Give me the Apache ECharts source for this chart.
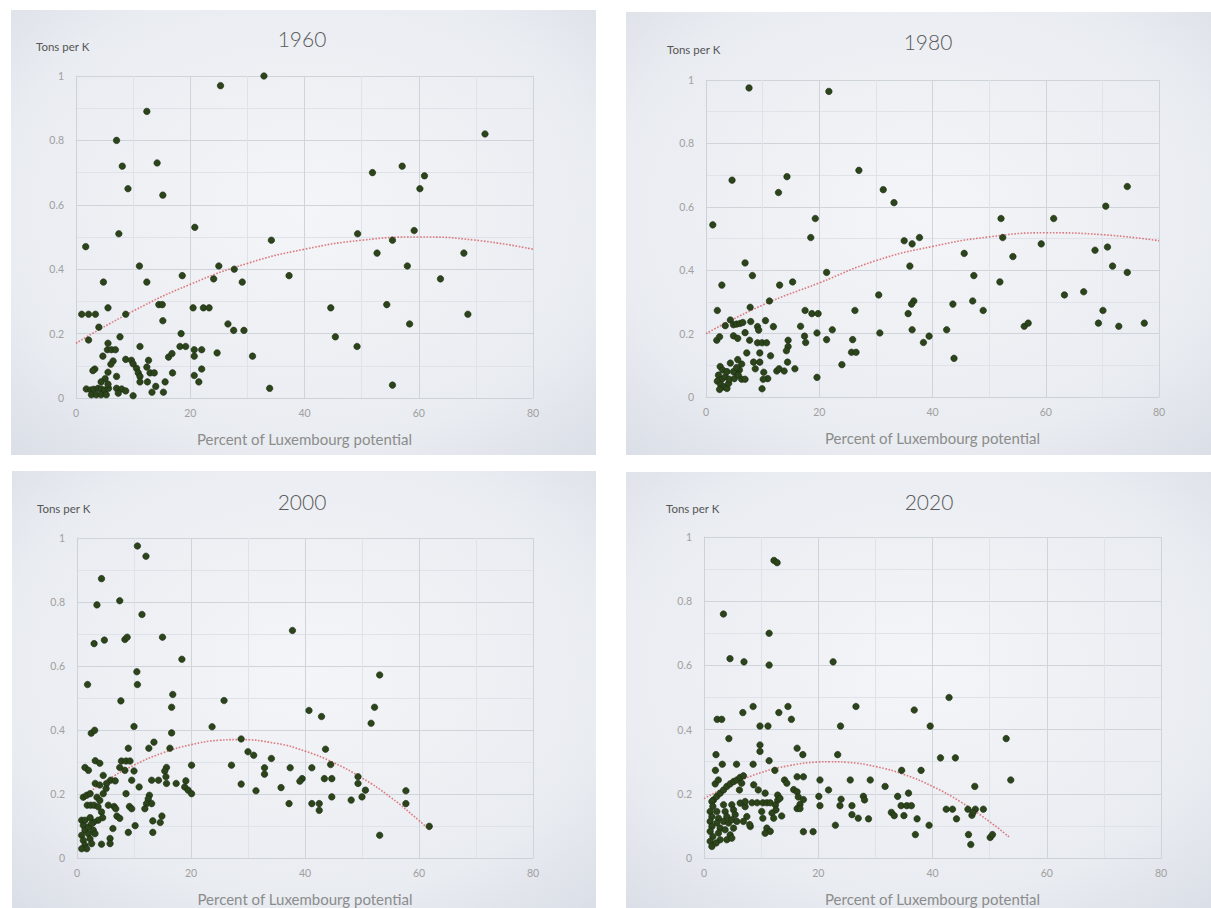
<!DOCTYPE html>
<html><head><meta charset="utf-8">
<script src="https://cdn.jsdelivr.net/npm/echarts@6/dist/echarts.min.js"></script>
<style>html,body{margin:0;padding:0;background:#fff}#c{width:1211px;height:908px}</style>
</head><body><div id="c"></div><script>
// ---------- DATA ----------
const years = ['1960', '1980', '2000', '2020'];
const xTickLabels = ['0', '20', '40', '60', '80'];
const yTickLabels = ['0', '0.2', '0.4', '0.6', '0.8', '1'];
const yAxisTitle = 'Tons per K';
const xAxisTitle = 'Percent of Luxembourg potential';

const pts1960 = [
 [32.9,1.0],[25.3,0.97],[12.4,0.89],[7.1,0.80],[71.6,0.82],[8.1,0.72],[14.2,0.73],[9.1,0.65],[15.2,0.63],[51.9,0.70],
 [57.1,0.72],[61.0,0.69],[60.2,0.65],[7.5,0.51],[20.8,0.53],[1.7,0.47],[34.2,0.49],[49.3,0.51],[59.2,0.52],[55.4,0.49],
 [52.7,0.45],[67.9,0.45],[58.0,0.41],[63.8,0.37],[11.1,0.41],[25.0,0.41],[27.7,0.40],[37.3,0.38],[18.6,0.38],[24.1,0.37],
 [29.1,0.36],[4.8,0.36],[12.4,0.36],[44.6,0.28],[54.4,0.29],[68.6,0.26],[1.0,0.26],[2.2,0.26],[3.4,0.26],[5.6,0.28],
 [8.7,0.26],[14.5,0.29],[15.1,0.29],[20.5,0.28],[22.3,0.28],[23.3,0.28],[15.2,0.24],[26.6,0.23],[27.6,0.21],[29.4,0.21],
 [58.4,0.23],[4.0,0.22],[2.2,0.18],[7.7,0.19],[18.4,0.20],[45.4,0.19],[49.2,0.16],[55.4,0.04],[33.9,0.03],[30.9,0.13],
 [24.7,0.14],[18.2,0.16],[19.2,0.16],[20.7,0.15],[22.0,0.15],[20.7,0.13],[22.0,0.09],[20.7,0.07],[21.5,0.05],
 [5.6,0.17],[5.5,0.15],[6.2,0.15],[6.9,0.15],[11.2,0.16],[4.7,0.13],[6.5,0.115],[6.1,0.105],[3.3,0.09],[2.96,0.085],
 [5.6,0.08],[5.1,0.06],[4.4,0.05],[8.7,0.12],[9.7,0.117],[10.0,0.106],[10.6,0.092],[10.9,0.078],[11.2,0.067],[12.7,0.117],
 [12.4,0.096],[12.96,0.078],[13.7,0.078],[11.2,0.05],[12.5,0.05],[13.96,0.036],[15.6,0.05],[13.3,0.018],[15.3,0.018],[10.0,0.007],
 [16.9,0.078],[16.2,0.127],[16.8,0.138],[1.8,0.028],[2.6,0.025],[3.1,0.027],[3.85,0.03],[4.4,0.028],[5.0,0.025],[5.7,0.03],
 [2.7,0.01],[3.55,0.01],[4.4,0.01],[5.3,0.01],[7.1,0.03],[8.0,0.028],[8.7,0.022],[7.4,0.015],[5.6,0.043],[7.1,0.067]
];
const pts1980 = [
 [7.6,0.975],[21.7,0.964],[27.0,0.715],[4.6,0.684],[14.3,0.695],[12.8,0.645],[31.3,0.654],[33.2,0.613],[74.4,0.664],[70.6,0.602],
 [1.2,0.543],[19.3,0.563],[18.5,0.503],[52.1,0.563],[61.4,0.563],[35.0,0.493],[36.4,0.483],[37.7,0.503],[52.4,0.503],[59.2,0.483],
 [68.7,0.463],[70.9,0.473],[45.6,0.453],[54.2,0.443],[6.9,0.423],[8.2,0.383],[36.0,0.413],[71.8,0.413],[74.4,0.393],[21.3,0.393],
 [47.3,0.383],[2.8,0.353],[13.0,0.353],[15.3,0.363],[51.9,0.363],[30.5,0.322],[63.3,0.322],[66.7,0.332],[2.0,0.273],[7.8,0.283],
 [11.2,0.303],[36.7,0.303],[36.3,0.293],[47.1,0.303],[43.6,0.293],[48.95,0.273],[26.3,0.273],[17.5,0.273],[18.7,0.263],[19.8,0.263],
 [35.7,0.263],[70.1,0.273],[16.7,0.223],[56.2,0.223],[56.9,0.233],[69.3,0.233],[72.9,0.223],[77.4,0.233],[36.4,0.212],[42.5,0.212],
 [22.3,0.212],[19.6,0.202],[30.7,0.202],[39.4,0.192],[38.4,0.172],[21.3,0.181],[25.9,0.181],[25.7,0.141],[26.5,0.141],[43.8,0.122],
 [24.0,0.102],[19.6,0.062],[17.4,0.192],[17.6,0.172],
 [3.4,0.225],[4.3,0.243],[4.85,0.228],[5.4,0.23],[6.0,0.232],[6.5,0.235],[7.9,0.238],[1.9,0.179],[2.4,0.19],[4.85,0.193],
 [5.6,0.185],[6.9,0.203],[7.7,0.179],[9.1,0.222],[9.3,0.211],[10.5,0.241],[11.9,0.222],[9.1,0.171],[9.9,0.171],[10.7,0.171],
 [7.2,0.139],[9.5,0.139],[11.4,0.13],[14.5,0.179],[14.5,0.159],[14.2,0.146],[5.6,0.118],[6.3,0.104],[5.9,0.085],[5.3,0.079],
 [8.4,0.11],[9.5,0.11],[8.7,0.089],[10.2,0.078],[10.9,0.058],[10.1,0.056],[9.9,0.026],[12.5,0.082],[12.9,0.089],[13.8,0.082],
 [14.4,0.11],[15.7,0.089],[2.5,0.096],[2.95,0.085],[2.2,0.069],[2.8,0.056],[3.4,0.064],[2.0,0.05],[2.6,0.039],[3.2,0.032],
 [3.7,0.027],[4.0,0.043],[2.4,0.024],[4.1,0.056],[3.7,0.08],[4.3,0.107],[4.85,0.08],[5.0,0.058],[6.3,0.056],[6.9,0.056],
 [5.7,0.069],[5.4,0.093]
];
const pts2000 = [
 [10.6,0.975],[12.1,0.943],[4.3,0.873],[7.5,0.804],[3.5,0.791],[11.4,0.761],[37.8,0.711],[3.0,0.670],[4.8,0.681],[8.4,0.683],
 [8.8,0.690],[15.0,0.690],[18.4,0.621],[10.5,0.582],[53.1,0.572],[1.85,0.542],[10.6,0.542],[16.8,0.511],[7.7,0.491],[25.8,0.492],
 [16.6,0.471],[52.2,0.471],[40.7,0.461],[42.9,0.442],[51.6,0.421],[10.0,0.411],[23.7,0.410],[2.5,0.39],[3.1,0.399],[16.6,0.391],
 [28.8,0.372],[43.6,0.34],[30.0,0.332],[31.0,0.321],[34.1,0.311],[32.9,0.282],[32.9,0.262],[20.1,0.29],[27.1,0.29],[37.4,0.282],
 [41.2,0.282],[44.5,0.292],[39.5,0.248],[39.1,0.24],[43.4,0.248],[44.7,0.248],[49.3,0.254],[49.3,0.233],[28.8,0.231],[35.8,0.22],
 [50.6,0.212],[31.4,0.21],[57.7,0.21],[57.7,0.17],[44.7,0.191],[50.0,0.191],[48.1,0.181],[37.2,0.17],[41.2,0.17],[42.5,0.17],
 [42.5,0.149],[61.8,0.099],[53.1,0.071],
 [9.0,0.343],[12.6,0.343],[13.5,0.362],[16.3,0.343],[1.4,0.283],[2.0,0.274],[3.2,0.304],[4.0,0.296],[7.8,0.303],[8.6,0.303],
 [9.3,0.303],[7.5,0.283],[8.4,0.274],[10.0,0.272],[15.7,0.283],[15.4,0.272],[4.6,0.258],[5.9,0.243],[6.7,0.241],[9.6,0.243],
 [13.1,0.243],[14.3,0.243],[15.6,0.254],[15.7,0.233],[17.4,0.233],[19.1,0.241],[18.9,0.222],[19.5,0.212],[20.1,0.201],[3.2,0.233],
 [4.0,0.228],[5.1,0.217],[4.6,0.201],[5.2,0.233],[10.9,0.222],[8.6,0.201],[1.1,0.19],[1.7,0.196],[2.3,0.201],[3.5,0.19],
 [4.0,0.18],[12.7,0.196],[12.5,0.185],[12.2,0.17],[13.1,0.17],[11.9,0.154],[6.5,0.161],[6.8,0.154],[9.2,0.161],[9.6,0.154],
 [1.8,0.165],[2.4,0.165],[3.0,0.165],[3.7,0.16],[4.3,0.144],[5.5,0.165],[7.0,0.131],[7.5,0.124],[4.5,0.126],[3.7,0.118],
 [2.3,0.126],[2.9,0.112],[10.2,0.101],[9.0,0.08],[13.3,0.116],[14.9,0.131],[14.6,0.111],[13.3,0.08],[6.3,0.092],[5.8,0.061],
 [5.8,0.045],[4.3,0.043],[0.82,0.118],[1.11,0.102],[1.4,0.087],[0.82,0.071],[1.11,0.055],[1.4,0.04],[2.0,0.076],[2.28,0.06],
 [2.57,0.045],[1.7,0.029],[2.86,0.087],[0.82,0.029],[1.4,0.118],[2.0,0.097],[2.57,0.107],[3.16,0.076]
];
const pts2020 = [
 [12.25,0.927],[12.8,0.92],[3.4,0.76],[11.4,0.70],[4.55,0.621],[7.0,0.611],[11.4,0.601],[8.6,0.472],[6.8,0.453],[2.3,0.432],
 [3.1,0.432],[9.8,0.411],[11.2,0.411],[4.35,0.372],[9.8,0.352],[9.8,0.332],[2.1,0.322],[11.4,0.303],[2.0,0.273],[3.2,0.292],
 [5.7,0.292],[8.6,0.292],
 [22.6,0.611],[42.9,0.5],[26.6,0.472],[14.7,0.472],[13.1,0.453],[15.3,0.432],[36.8,0.461],[23.9,0.411],[39.6,0.411],[52.9,0.372],
 [16.3,0.342],[17.3,0.322],[23.4,0.322],[41.4,0.312],[44.0,0.312],[12.4,0.273],[34.6,0.273],[38.0,0.273],[53.7,0.243],[20.3,0.243],
 [25.6,0.243],[29.1,0.243],[16.3,0.253],[17.4,0.253],[14.1,0.243],[14.5,0.233],[21.8,0.212],[31.7,0.223],[47.4,0.223],[35.8,0.202],
 [27.9,0.192],[28.1,0.181],[33.9,0.192],[20.1,0.192],[20.3,0.163],[24.0,0.183],[23.8,0.163],[25.9,0.163],[42.4,0.152],[43.5,0.152],
 [46.2,0.152],[47.5,0.152],[48.9,0.152],[32.8,0.142],[33.3,0.132],[34.5,0.163],[35.5,0.163],[36.3,0.163],[35.0,0.132],[37.3,0.122],
 [44.2,0.122],[46.9,0.133],[47.1,0.142],[25.9,0.135],[27.0,0.124],[28.8,0.122],[23.0,0.102],[39.4,0.102],[17.4,0.082],[19.1,0.082],
 [37.0,0.073],[46.3,0.073],[50.1,0.064],[50.5,0.073],[46.7,0.042],
 [15.7,0.213],[16.3,0.206],[16.5,0.19],[17.4,0.182],[16.8,0.167],[16.3,0.154],[16.8,0.154],[12.9,0.18],[12.5,0.165],[12.6,0.15],
 [13.6,0.131],[12.9,0.196],[13.3,0.186],
 [1.67,0.181],[2.25,0.192],[2.83,0.202],[3.42,0.212],[4.0,0.223],[4.58,0.231],[5.17,0.238],[5.75,0.243],[6.33,0.251],[6.9,0.256],
 [1.96,0.231],[2.5,0.243],
 [1.38,0.176],[1.55,0.161],[1.08,0.145],[1.38,0.129],[1.08,0.114],[1.38,0.098],[1.08,0.083],[1.55,0.067],[1.08,0.052],[1.38,0.036],
 [2.25,0.145],[2.54,0.124],[2.25,0.109],[2.83,0.093],[2.54,0.078],[2.83,0.057],[2.13,0.047],
 [3.42,0.166],[3.7,0.145],[4.0,0.129],[3.42,0.114],[4.3,0.109],[3.7,0.088],[4.58,0.072],[4.0,0.057],
 [4.87,0.166],[5.17,0.15],[5.46,0.135],[4.87,0.119],[5.75,0.114],[5.17,0.093],[4.87,0.062],
 [6.33,0.171],[7.2,0.16],[7.5,0.129],[6.9,0.114],[8.1,0.098],[7.2,0.176],
 [6.2,0.212],[6.6,0.233],[8.7,0.228],[9.5,0.212],
 [8.4,0.172],[9.3,0.172],[10.3,0.172],[11.0,0.172],[11.6,0.172],
 [10.7,0.202],[10.1,0.145],[10.3,0.124],[11.9,0.14],[12.2,0.124],[11.0,0.093],[11.6,0.083],[10.7,0.077],[8.0,0.104]
];
// trend lines
const trend1960 = [[0,0.17],[10,0.27],[20,0.353],[30,0.418],[40,0.462],[50,0.49],[60,0.5],[70,0.49],[80,0.462]];
const trend1980 = [[0,0.2],[10,0.29],[20,0.36],[30,0.43],[40,0.475],[50,0.505],[60,0.518],[70,0.512],[80,0.493]];
const trend2000 = [[1,0.19],[5,0.24],[10,0.29],[15,0.328],[20,0.354],[25,0.368],[28,0.37],[35,0.358],[40,0.334],[45,0.298],[50,0.25],[55,0.19],[60,0.117],[62,0.085]];
const trend2020 = [[0,0.185],[5,0.23],[10,0.266],[15,0.288],[20,0.299],[22,0.3],[25,0.298],[30,0.285],[35,0.26],[40,0.223],[45,0.174],[50,0.113],[53.5,0.064]];

const allPts = [pts1960, pts1980, pts2000, pts2020];
const allTrend = [trend1960, trend1980, trend2000, trend2020];

// ---------- LAYOUT ----------
const panels = [
  {box:[11,10,585,445], grid:{left:76,top:76,width:457,height:322}, title:[302,38], ylab:[36,46]},
  {box:[626,12,585,443], grid:{left:706,top:80,width:453,height:317}, title:[928,41], ylab:[667,49]},
  {box:[12,471,584,437], grid:{left:77,top:538,width:456,height:320}, title:[302,501], ylab:[37,508]},
  {box:[626,472,585,436], grid:{left:704,top:537,width:457,height:321}, title:[929,501], ylab:[666,508]}
];

const FONT = 'Lato, "Open Sans", sans-serif';
const graphics = [];
panels.forEach((p, i) => {
  graphics.push({type:'rect', z:-10, shape:{x:p.box[0], y:p.box[1], width:p.box[2], height:p.box[3]},
    style:{fill:{type:'radial', x:0.5, y:0.45, r:0.75, colorStops:[{offset:0,color:'#f4f5f8'},{offset:0.7,color:'#e9ecf1'},{offset:1,color:'#dadee6'}]}}});
  graphics.push({type:'text', x:p.title[0], y:p.title[1], style:{text:years[i], font:'300 21px ' + FONT, fill:'#5a5a5a', textAlign:'center', textVerticalAlign:'middle'}});
  graphics.push({type:'text', x:p.ylab[0], y:p.ylab[1], style:{text:yAxisTitle, font:'400 11.5px ' + FONT, fill:'#555', textAlign:'left', textVerticalAlign:'middle'}});
});

const grids = [], xAxes = [], yAxes = [], series = [];
panels.forEach((p, i) => {
  grids.push(Object.assign({containLabel:false}, p.grid));
  xAxes.push({type:'value', gridIndex:i, min:0, max:80, interval:20,
    name:xAxisTitle, nameLocation:'middle', nameGap:33,
    nameTextStyle:{fontFamily:FONT, fontSize:15, color:'#8c8c8c'},
    axisLine:{show:true, lineStyle:{color:'#cdd1d8'}}, axisTick:{show:false},
    axisLabel:{color:'#a0a0a0', fontSize:10.5, fontFamily:FONT, margin:9, formatter:v => xTickLabels[v/20]},
    splitLine:{show:true, lineStyle:{color:'#cfd3da', width:1}},
    minorTick:{show:false, splitNumber:2}, minorSplitLine:{show:true, lineStyle:{color:'#dfe2e8', width:1}}});
  yAxes.push({type:'value', gridIndex:i, min:0, max:1, interval:0.2,
    axisLine:{show:true, lineStyle:{color:'#cdd1d8'}}, axisTick:{show:false},
    axisLabel:{color:'#a0a0a0', fontSize:10.5, fontFamily:FONT, margin:12, formatter:v => yTickLabels[Math.round(v/0.2)]},
    splitLine:{show:true, lineStyle:{color:'#cfd3da', width:1}},
    minorTick:{show:false, splitNumber:2}, minorSplitLine:{show:true, lineStyle:{color:'#dfe2e8', width:1}}});
  series.push({type:'line', xAxisIndex:i, yAxisIndex:i, data:allTrend[i], smooth:true, symbol:'none', z:3,
    lineStyle:{color:'#d9646a', width:1.6, type:'dotted', opacity:0.85}});
  series.push({type:'scatter', xAxisIndex:i, yAxisIndex:i, data:allPts[i], symbolSize:6.5, z:4,
    itemStyle:{color:'#2b4419', borderColor:'#1c2a12', borderWidth:0.6, opacity:1}});
});

const chart = echarts.init(document.getElementById('c'), null, {renderer:'svg', width:1211, height:908});
chart.setOption({
  backgroundColor:'#ffffff', animation:false,
  graphic:graphics, grid:grids, xAxis:xAxes, yAxis:yAxes, series:series
});
</script></body></html>
